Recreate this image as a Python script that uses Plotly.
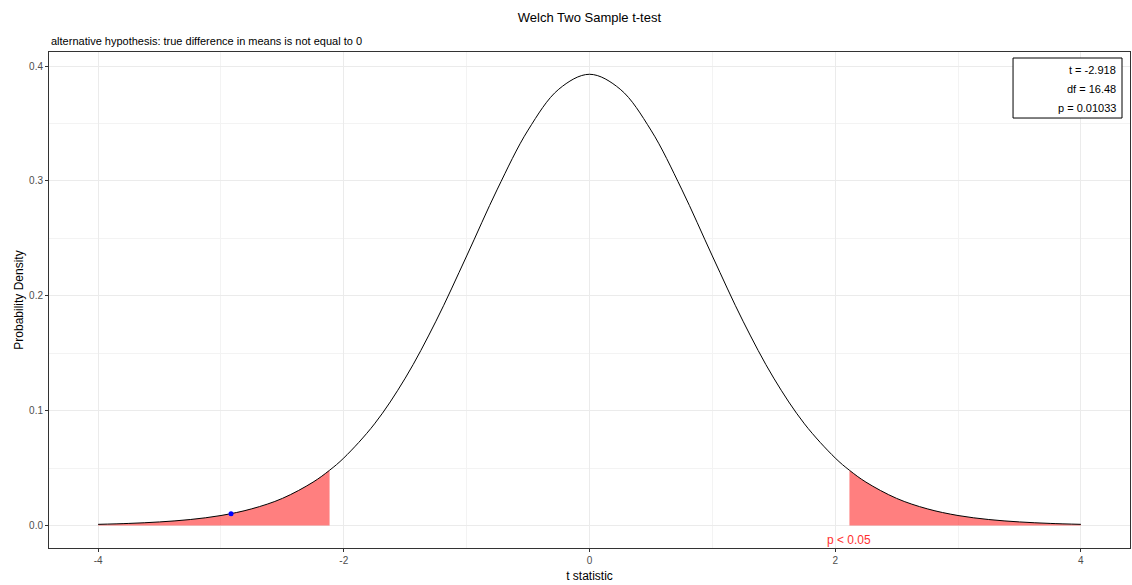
import plotly.graph_objects as go

# t statistic grid and the density (df = 16.48)
t_x = [-4.0, -3.75, -3.5, -3.25, -3.0, -2.75, -2.5, -2.25, -2.116, -2.0,
       -1.75, -1.5, -1.25, -1.0, -0.75, -0.5, -0.25, 0.0,
       0.25, 0.5, 0.75, 1.0, 1.25, 1.5, 1.75, 2.0, 2.116,
       2.25, 2.5, 2.75, 3.0, 3.25, 3.5, 3.75, 4.0]
density = [0.0010, 0.0018, 0.0031, 0.0052, 0.0087, 0.0145, 0.0236, 0.0378, 0.0481, 0.0588,
           0.0885, 0.1283, 0.1779, 0.2347, 0.2929, 0.3443, 0.3799, 0.3929,
           0.3799, 0.3443, 0.2929, 0.2347, 0.1779, 0.1283, 0.0885, 0.0588, 0.0481,
           0.0378, 0.0236, 0.0145, 0.0087, 0.0052, 0.0031, 0.0018, 0.0010]

t_crit = 2.116
t_stat = -2.918
t_stat_density = 0.0103
df_value = 16.48
p_value = 0.01033

x_ticks = [-4, -2, 0, 2, 4]
x_tick_labels = ["-4", "-2", "0", "2", "4"]
y_ticks = [0.0, 0.1, 0.2, 0.3, 0.4]
y_tick_labels = ["0.0", "0.1", "0.2", "0.3", "0.4"]

left_x = [x for x in t_x if x <= -t_crit]
left_y = [d for x, d in zip(t_x, density) if x <= -t_crit]
right_x = [x for x in t_x if x >= t_crit]
right_y = [d for x, d in zip(t_x, density) if x >= t_crit]

fill_col = "rgba(255,0,0,0.5)"
fig = go.Figure()
for xs, ys in [(left_x, left_y), (right_x, right_y)]:
    fig.add_trace(go.Scatter(x=xs, y=ys, mode="lines", fill="tozeroy",
                             fillcolor=fill_col, line=dict(width=0, shape="spline"),
                             showlegend=False, hoverinfo="skip"))
fig.add_trace(go.Scatter(x=t_x, y=density, mode="lines",
                         line=dict(color="black", width=1, shape="spline"),
                         showlegend=False))
fig.add_trace(go.Scatter(x=[t_stat], y=[t_stat_density], mode="markers",
                         marker=dict(color="blue", size=5), showlegend=False))

annotations = [
    dict(x=t_crit, y=-0.0125, xref="x", yref="y", text="p < 0.05",
         showarrow=False, font=dict(color="#FF3030", size=12)),
    dict(xref="paper", yref="paper", x=0, y=1.0, xanchor="left", yanchor="bottom",
         yshift=3, text="alternative hypothesis: true difference in means is not equal to 0",
         showarrow=False, font=dict(size=11, color="black")),
]
stat_lines = [f"t = {t_stat}", f"df = {df_value}", f"p = {p_value}"]
line_y = [0.9637, 0.9254, 0.8871]
for txt, yy in zip(stat_lines, line_y):
    annotations.append(dict(xref="paper", yref="paper", x=0.9885, y=yy,
                            xanchor="right", yanchor="middle", text=txt,
                            showarrow=False, font=dict(size=11, color="black")))

grid_col = "#ebebeb"
fig.update_layout(
    width=1132, height=585,
    margin=dict(l=49, r=2, t=52, b=37),
    paper_bgcolor="white", plot_bgcolor="white",
    font=dict(family="Liberation Sans, Arial, sans-serif", color="black"),
    title=dict(text="Welch Two Sample t-test", x=0.5207, xanchor="center",
               y=0.97, yanchor="middle", font=dict(size=13)),
    annotations=annotations,
    shapes=[dict(type="rect", xref="paper", yref="paper", x0=0.8918, x1=0.9926,
                 y0=0.8669, y1=0.9879, line=dict(color="black", width=1),
                 fillcolor="white", layer="above")],
)
fig.update_xaxes(range=[-4.4, 4.4], tickvals=x_ticks, ticktext=x_tick_labels,
                 ticks="outside", ticklen=3,
                 tickcolor="#333333", tickfont=dict(size=10, color="#4d4d4d"),
                 showgrid=True, gridcolor=grid_col, gridwidth=1,
                 minor=dict(dtick=1, tick0=-3, showgrid=True, gridcolor="#f3f3f3", gridwidth=1, ticks=""),
                 zeroline=False, showline=True, linecolor="#333333", linewidth=1, mirror=True,
                 title=dict(text="t statistic", font=dict(size=12), standoff=6))
fig.update_yaxes(range=[-0.0196, 0.4123], tickvals=y_ticks, ticktext=y_tick_labels,
                 ticks="outside", ticklen=3, tickcolor="#333333",
                 tickfont=dict(size=10, color="#4d4d4d"),
                 showgrid=True, gridcolor=grid_col, gridwidth=1,
                 minor=dict(tickvals=[0.05, 0.15, 0.25, 0.35], showgrid=True, gridcolor="#f3f3f3", gridwidth=1, ticks=""),
                 zeroline=False, showline=True, linecolor="#333333", linewidth=1, mirror=True,
                 title=dict(text="Probability Density", font=dict(size=12), standoff=2))

fig.write_html("out.html", config={"displayModeBar": False},
               post_script="document.body.style.margin='0';document.body.style.overflow='hidden';")
